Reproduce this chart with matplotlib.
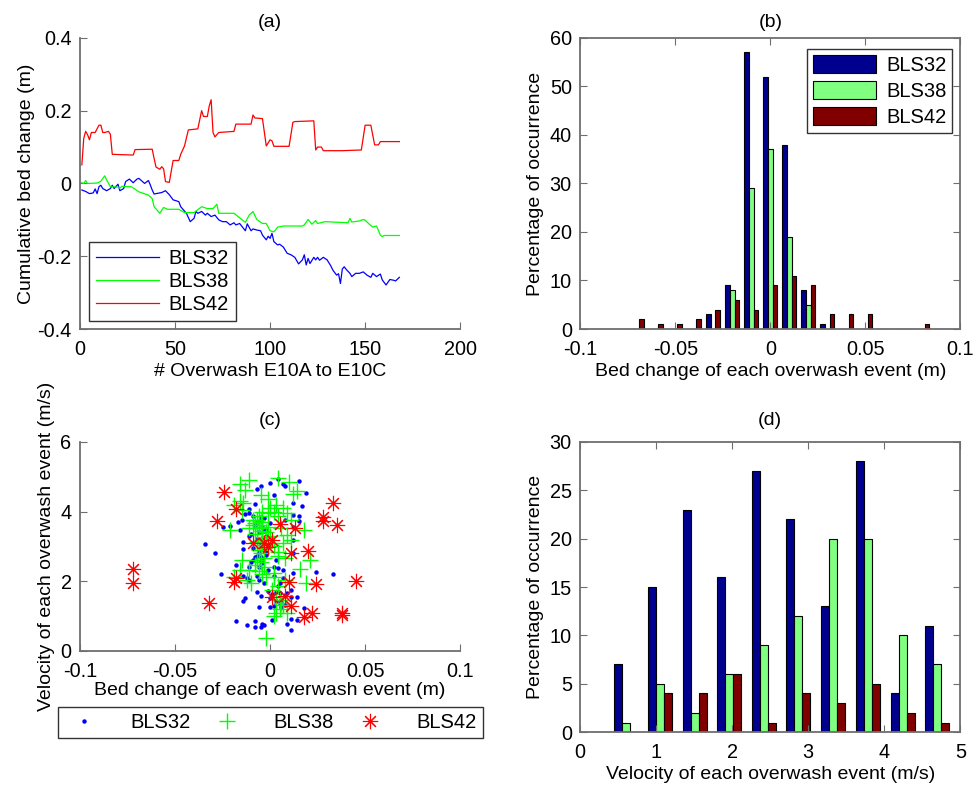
import matplotlib
matplotlib.use('Agg')
import matplotlib.pyplot as plt
import numpy as np

plt.rcParams['font.family'] = ['Liberation Sans', 'DejaVu Sans']

# ---- (a) cumulative bed change, vertices
bls32_x = [1, 3, 5, 7, 8, 9, 10, 11, 12, 14, 16, 17, 18, 20, 21, 23, 24, 26, 28, 30, 31, 34, 36,
           37, 38, 39, 43, 45, 47, 49, 52, 53, 56, 58, 60, 61, 62, 64, 66, 67, 69, 71, 73, 75, 77,
           79, 81, 82, 84, 87, 88, 90, 91, 93, 95, 96, 98, 99, 100, 101, 102, 104, 105, 107, 109,
           111, 113, 115, 117, 118, 119, 120, 121, 123, 124, 125, 126, 128, 130, 132, 133, 135,
           136, 137, 138, 139, 140, 142, 143, 145, 147, 149, 151, 153, 154, 156, 158, 159, 161,
           163, 165, 166, 168]
bls32_y = [-0.018, -0.022, -0.028, -0.026, -0.015, -0.028, -0.009, -0.005, -0.014, -0.020,
           -0.014, -0.005, -0.014, -0.002, -0.020, -0.014, 0.005, 0.012, 0.002, 0.012, 0.014,
           0.000, 0.008, -0.004, -0.018, -0.029, -0.025, -0.020, -0.031, -0.045, -0.050, -0.064,
           -0.082, -0.105, -0.096, -0.077, -0.082, -0.077, -0.087, -0.082, -0.091, -0.087,
           -0.100, -0.105, -0.105, -0.114, -0.108, -0.114, -0.110, -0.130, -0.111, -0.130,
           -0.125, -0.128, -0.130, -0.142, -0.155, -0.145, -0.151, -0.137, -0.160, -0.169,
           -0.167, -0.175, -0.192, -0.196, -0.203, -0.221, -0.210, -0.196, -0.224, -0.206,
           -0.220, -0.203, -0.210, -0.203, -0.211, -0.203, -0.210, -0.227, -0.238, -0.252,
           -0.248, -0.275, -0.235, -0.229, -0.236, -0.247, -0.256, -0.247, -0.247, -0.243,
           -0.252, -0.258, -0.247, -0.256, -0.249, -0.265, -0.279, -0.264, -0.266, -0.268,
           -0.258]

bls38_x = [1, 2, 3, 4, 9, 11, 13, 14, 16, 20, 21, 22, 27, 31, 36, 38, 39, 42, 44, 46, 52, 55,
           60, 64, 67, 70, 72, 73, 81, 87, 89, 91, 93, 96, 98, 100, 102, 104, 107, 112, 117, 118,
           120, 122, 124, 125, 129, 141, 142, 143, 147, 149, 150, 152, 154, 156, 158, 159, 160,
           168]
bls38_y = [0.002, 0.000, 0.008, 0.000, 0.001, 0.006, 0.021, 0.010, -0.009, -0.010, -0.013,
           -0.008, -0.009, -0.023, -0.032, -0.042, -0.064, -0.082, -0.066, -0.071, -0.071,
           -0.080, -0.080, -0.064, -0.069, -0.069, -0.057, -0.082, -0.082, -0.107, -0.087,
           -0.077, -0.099, -0.110, -0.110, -0.130, -0.133, -0.120, -0.117, -0.117, -0.117,
           -0.114, -0.099, -0.112, -0.102, -0.110, -0.105, -0.108, -0.096, -0.106, -0.103,
           -0.099, -0.101, -0.111, -0.120, -0.117, -0.142, -0.146, -0.143, -0.143]

bls42_x = [1, 2, 3, 4, 5, 6, 8, 10, 11, 12, 13, 15, 16, 17, 28, 29, 38, 39, 40, 42, 43, 44, 45,
           47, 49, 52, 53, 55, 57, 62, 63, 64, 65, 67, 68, 69, 70, 71, 73, 81, 82, 90, 91, 92, 96,
           98, 100, 101, 102, 110, 112, 113, 123, 124, 125, 127, 128, 138, 148, 150, 153, 155,
           157, 158, 168]
bls42_y = [0.051, 0.124, 0.143, 0.134, 0.120, 0.140, 0.140, 0.160, 0.160, 0.140, 0.140, 0.143,
           0.135, 0.080, 0.078, 0.093, 0.094, 0.069, 0.045, 0.039, 0.046, 0.040, 0.005, 0.003,
           0.063, 0.063, 0.080, 0.103, 0.147, 0.150, 0.175, 0.200, 0.184, 0.184, 0.213, 0.230,
           0.140, 0.128, 0.140, 0.143, 0.163, 0.163, 0.188, 0.180, 0.178, 0.103, 0.120, 0.117,
           0.102, 0.102, 0.168, 0.170, 0.172, 0.092, 0.100, 0.100, 0.090, 0.090, 0.092, 0.160,
           0.160, 0.106, 0.106, 0.115, 0.115]

# ---- (b) histogram of bed change per event (counts)
bed_bins = [-0.07, -0.06, -0.05, -0.04, -0.03, -0.02, -0.01, 0.0, 0.01, 0.02, 0.03, 0.04, 0.05,
            0.06, 0.07, 0.08]
bed_bls32 = [0, 0, 0, 0, 3, 9, 57, 52, 38, 8, 1, 0, 0, 0, 0, 0]
bed_bls38 = [0, 0, 0, 0, 0, 8, 29, 37, 19, 5, 0, 0, 0, 0, 0, 0]
bed_bls42 = [2, 1, 1, 2, 4, 6, 4, 9, 11, 9, 3, 3, 3, 0, 0, 1]

# ---- (c) scatter: bed change vs velocity
sc32_x = [0.004, 0.015, 0.007, 0.008, -0.005, -0.007, 0.000, 0.019, 0.002, 0.017, 0.012,
          -0.008, -0.011, -0.013, -0.015, -0.017, -0.025, -0.021, -0.016, -0.011, -0.009,
          -0.005, -0.003, 0.000, -0.002, 0.012, 0.015, 0.015, 0.012, 0.008, 0.012, -0.014,
          -0.011, -0.002, -0.005, -0.014, -0.034, -0.029, -0.007, -0.005, 0.012, -0.010,
          -0.018, -0.011, -0.004, -0.001, 0.002, 0.004, 0.007, 0.012, 0.024, 0.033, -0.026,
          -0.014, -0.012, -0.011, -0.007, -0.006, -0.003, -0.001, 0.003, 0.005, 0.011, 0.009,
          -0.013, -0.014, -0.005, -0.007, 0.000, 0.003, 0.005, 0.006, 0.008, 0.011, 0.014,
          0.000, -0.006, 0.018, 0.014, 0.011, 0.001, -0.008, -0.018, -0.012, -0.008, -0.004,
          -0.003, -0.005, 0.009, 0.011,
          -0.008, -0.006, -0.004, -0.002, -0.007, -0.005, -0.003, -0.009, -0.006, -0.004,
          -0.008, -0.005, -0.002, -0.010, -0.007, -0.004, -0.006, -0.003, -0.009, -0.005,
          0.002, 0.004, 0.001, 0.006, 0.003, -0.001, 0.005, 0.008, 0.002, 0.007]
sc32_y = [4.93, 4.88, 4.79, 4.74, 4.74, 4.65, 4.81, 4.53, 4.48, 4.17, 4.24, 4.21, 4.07, 3.93,
          3.76, 3.71, 3.55, 3.59, 3.47, 3.95, 3.86, 3.76, 3.81, 3.68, 3.47, 3.90, 3.86, 3.74,
          3.55, 3.76, 3.17, 3.14, 3.30, 2.85, 3.00, 2.92, 3.06, 2.81, 2.73, 2.69, 2.80, 2.56,
          2.47, 2.42, 2.52, 2.33, 2.40, 2.37, 2.33, 2.25, 2.27, 2.22, 2.22, 2.15, 2.09, 2.04,
          2.15, 2.04, 1.94, 1.73, 1.70, 1.67, 1.75, 1.66, 1.51, 1.42, 1.58, 1.70, 1.51, 1.42,
          1.37, 1.27, 1.32, 1.54, 1.54, 1.27, 1.25, 1.22, 0.89, 0.92, 0.89, 0.87, 0.86, 0.75,
          0.70, 0.78, 0.74, 0.70, 0.78, 0.60,
          3.62, 3.40, 3.55, 3.30, 3.20, 3.10, 3.45, 2.95, 2.85, 2.62, 2.70, 2.58, 2.75, 3.35,
          3.70, 3.25, 2.40, 2.90, 2.60, 3.85, 2.15, 1.85, 1.62, 1.45, 2.60, 3.05, 1.95, 1.60,
          1.30, 2.10]

sc38_x = [-0.011, -0.016, -0.013, 0.004, 0.010, 0.014, 0.012, -0.001, -0.005, 0.003, -0.014,
          -0.019, -0.015, -0.009, -0.005, -0.007, -0.004, -0.011, -0.001, 0.002, 0.004, 0.009,
          0.011, 0.006, 0.009, 0.011, 0.018, 0.007, 0.002, -0.002, -0.004, -0.007, -0.006,
          -0.005, -0.007, -0.008, -0.003, -0.015, 0.002, 0.008, 0.016, 0.019, 0.021, 0.008,
          0.004, -0.002, -0.012, -0.010, 0.006, 0.007, 0.003, 0.002, -0.002, -0.019, -0.008,
          -0.006, -0.004, 0.000, 0.007, -0.021, -0.016, 0.004, -0.011, -0.016, -0.003,
          -0.006, -0.004, -0.008, -0.005, -0.003, -0.007, -0.002, -0.005, -0.006, -0.004,
          0.001, 0.003, -0.009, 0.000, 0.005, 0.009, 0.004, -0.001, 0.002, 0.005]
sc38_y = [4.91, 4.79, 4.62, 4.96, 4.86, 4.60, 4.51, 4.35, 4.48, 4.19, 4.24, 4.19, 4.05, 3.76,
          3.71, 3.52, 3.57, 3.52, 3.95, 4.00, 3.86, 3.95, 3.76, 3.52, 3.33, 3.19, 3.47, 3.09,
          3.00, 3.28, 3.19, 3.14, 2.90, 2.80, 2.61, 2.47, 2.42, 2.61, 2.13, 2.04, 2.34, 1.96,
          2.61, 2.66, 2.73, 2.13, 2.04, 1.94, 1.37, 1.32, 1.08, 0.99, 0.36, 2.13, 3.66, 3.86,
          4.00, 4.10, 4.10, 3.47, 4.29, 1.85, 2.33, 2.33, 2.66,
          3.60, 3.45, 3.35, 3.05, 2.95, 3.75, 3.40, 2.55, 2.30, 2.20, 1.75, 1.55, 3.62, 3.30,
          1.20, 1.10, 2.85, 3.55, 2.25, 1.45]

sc42_x = [-0.072, -0.072, -0.032, -0.024, -0.028, -0.018, -0.018, -0.019, -0.009, -0.003,
          0.001, -0.001, 0.005, 0.013, 0.011, 0.020, 0.010, 0.024, 0.001, 0.008, 0.011, 0.018,
          0.022, 0.038, 0.038, 0.045, 0.035, 0.028, 0.028, 0.033]
sc42_y = [2.35, 1.94, 1.37, 4.55, 3.73, 4.07, 2.09, 1.97, 3.11, 3.10, 3.19, 2.99, 3.64, 3.52,
          2.80, 2.87, 1.97, 1.91, 1.56, 1.59, 1.30, 0.96, 1.08, 1.08, 1.02, 2.00, 3.62, 3.83,
          3.74, 4.24]

# ---- (d) histogram of velocity per event (counts)
vel_bins = [0.60, 1.05, 1.51, 1.96, 2.42, 2.87, 3.33, 3.78, 4.24, 4.69]
vel_bls32 = [7, 15, 23, 16, 27, 22, 13, 28, 4, 11]
vel_bls38 = [1, 5, 2, 6, 9, 12, 20, 20, 10, 7]
vel_bls42 = [0, 4, 4, 6, 1, 4, 3, 5, 2, 1]

names = ['BLS32', 'BLS38', 'BLS42']
bar_cols = ['#00008F', '#80FF80', '#800000']
AXC = '#6e6e6e'
FS = 14


def style_axes(ax, box):
    for s in ['left', 'bottom', 'top', 'right']:
        ax.spines[s].set_color(AXC)
        ax.spines[s].set_linewidth(1.3)
    if not box:
        ax.spines['top'].set_visible(False)
        ax.spines['right'].set_visible(False)
    ax.tick_params(direction='in', length=5, color=AXC, labelsize=14.3,
                   top=box, right=box, pad=6)
    ax.tick_params(axis='x', pad=8)


def frame(leg):
    leg.get_frame().set_edgecolor('black')
    leg.get_frame().set_linewidth(1.0)


fig = plt.figure(figsize=(9.75, 7.89), dpi=100)

# (a)
ax = fig.add_axes([0.082, 0.583, 0.390, 0.369])
ax.plot(bls32_x, bls32_y, color='#0000FF', lw=0.9, label='BLS32')
ax.plot(bls38_x, bls38_y, color='#00FF00', lw=0.9, label='BLS38')
ax.plot(bls42_x, bls42_y, color='#FF0000', lw=0.9, label='BLS42')
ax.set_xlim(0, 200)
ax.set_ylim(-0.4, 0.4)
ax.set_xticks([0, 50, 100, 150, 200])
ax.set_yticks([-0.4, -0.2, 0, 0.2, 0.4])
ax.set_yticklabels(['-0.4', '-0.2', '0', '0.2', '0.4'])
ax.set_xlabel('# Overwash E10A to E10C', fontsize=FS, labelpad=3)
ax.set_ylabel('Cumulative bed change (m)', fontsize=FS, labelpad=2)
ax.set_title('(a)', fontsize=FS, pad=8)
style_axes(ax, False)
frame(ax.legend(loc='lower left', bbox_to_anchor=(0.024, 0.027), fontsize=14.5,
                handlelength=3.1, fancybox=False, borderaxespad=0, handletextpad=0.5,
                labelspacing=0.2, borderpad=0.35))

# (b)
ax = fig.add_axes([0.595, 0.583, 0.390, 0.369])
bw = 0.0024
bx = np.array(bed_bins)
for k, vals in enumerate([bed_bls32, bed_bls38, bed_bls42]):
    ax.bar(bx + (k - 1) * bw, vals, width=bw, color=bar_cols[k], edgecolor='black',
           linewidth=0.8, label=names[k])
ax.set_xlim(-0.1, 0.1)
ax.set_ylim(0, 60)
ax.set_xticks([-0.1, -0.05, 0, 0.05, 0.1])
ax.set_xticklabels(['-0.1', '-0.05', '0', '0.05', '0.1'])
ax.set_yticks(range(0, 61, 10))
ax.set_xlabel('Bed change of each overwash event (m)', fontsize=FS, labelpad=3)
ax.set_ylabel('Percentage of occurrence', fontsize=FS, labelpad=4)
ax.set_title('(b)', fontsize=FS, pad=8)
style_axes(ax, True)
frame(ax.legend(loc='upper right', bbox_to_anchor=(0.979, 0.962), fontsize=14.5,
                handlelength=3.1, handleheight=1.0, fancybox=False, borderaxespad=0,
                handletextpad=0.5, labelspacing=0.3, borderpad=0.3))

# (c)
ax = fig.add_axes([0.082, 0.175, 0.390, 0.265])
ax.plot(sc32_x, sc32_y, ls='none', marker='o', ms=3.2, color='#0000FF', mew=0, label='BLS32')
ax.plot(sc38_x, sc38_y, ls='none', marker='+', ms=11, color='#00FF00', mew=1.0, label='BLS38')
ax.plot(sc42_x, sc42_y, ls='none', marker=(8, 2, 0), ms=11, color='#FF0000', mew=0.8,
        label='BLS42')
ax.set_xlim(-0.1, 0.1)
ax.set_ylim(0, 6)
ax.set_xticks([-0.1, -0.05, 0, 0.05, 0.1])
ax.set_xticklabels(['-0.1', '-0.05', '0', '0.05', '0.1'])
ax.set_yticks([0, 2, 4, 6])
ax.set_xlabel('Bed change of each overwash event (m)', fontsize=FS, labelpad=1)
ax.set_ylabel('Velocity of each overwash event (m/s)', fontsize=FS, labelpad=4)
ax.set_title('(c)', fontsize=FS, pad=12)
style_axes(ax, False)
frame(ax.legend(loc='center', bbox_to_anchor=(-0.058, -0.426, 1.118, 0.167), mode='expand',
                ncol=3, fontsize=14.5, fancybox=False, borderaxespad=0, handlelength=2.0,
                handletextpad=1.3, borderpad=0.3, columnspacing=1.0))

# (d)
ax = fig.add_axes([0.595, 0.072, 0.390, 0.368])
vw = 0.105
vx = np.array(vel_bins)
for k, vals in enumerate([vel_bls32, vel_bls38, vel_bls42]):
    ax.bar(vx + (k - 1) * vw, vals, width=vw, color=bar_cols[k], edgecolor='black',
           linewidth=0.8)
ax.set_xlim(0, 5)
ax.set_ylim(0, 30)
ax.set_xticks(range(0, 6))
ax.set_yticks(range(0, 31, 5))
ax.set_xlabel('Velocity of each overwash event (m/s)', fontsize=FS, labelpad=3)
ax.set_ylabel('Percentage of occurrence', fontsize=FS, labelpad=4)
ax.set_title('(d)', fontsize=FS, pad=12)
style_axes(ax, True)

fig.savefig('out.png', dpi=100)
